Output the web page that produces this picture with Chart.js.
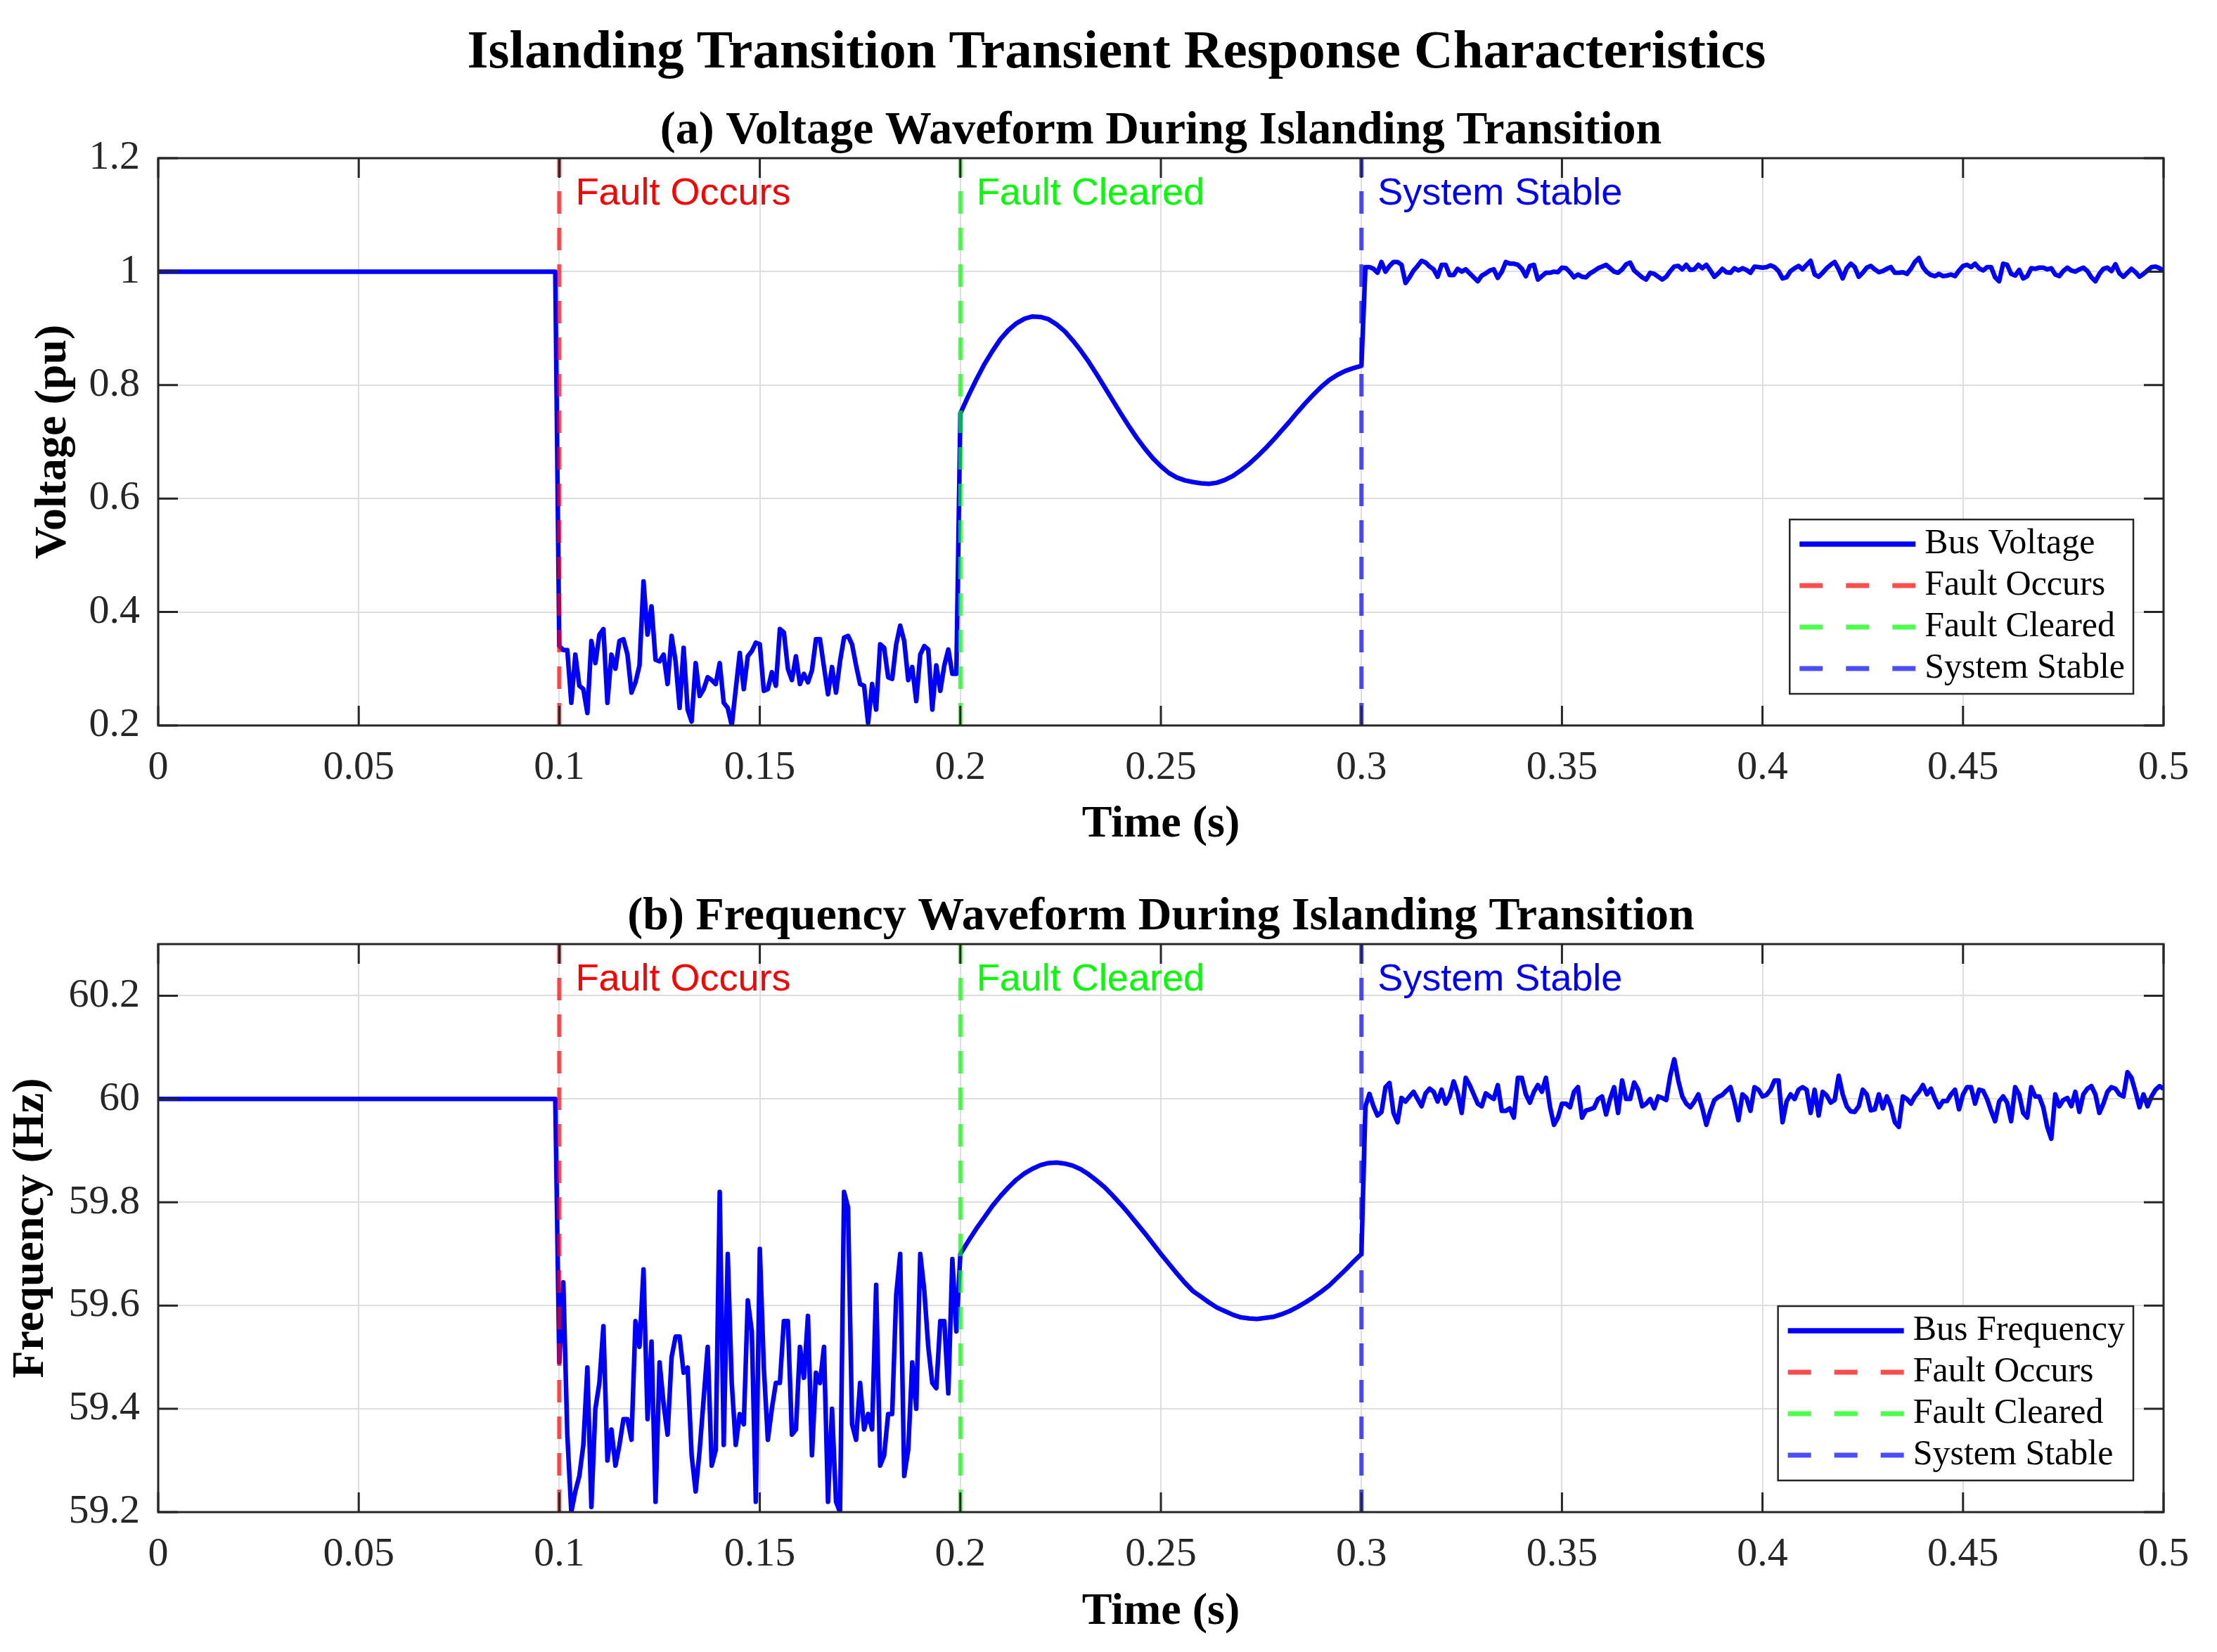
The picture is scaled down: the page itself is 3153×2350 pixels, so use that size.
<!DOCTYPE html>
<html>
<head>
<meta charset="utf-8">
<script src="https://cdn.jsdelivr.net/npm/chart.js@4.4.1/dist/chart.umd.min.js"></script>
<style>
  html, body { margin: 0; padding: 0; background: #fff; overflow: hidden; }
  #wrap { position: relative; width: 3153px; height: 2350px; }
  canvas { position: absolute; left: 0; }
  #suptitle {
    position: absolute; left: 1588px; top: 24px; transform: translateX(-50%);
    font: bold 77px/92px "Liberation Serif", "Times New Roman", serif;
    color: #000; white-space: nowrap;
  }
</style>
</head>
<body>
<div id="wrap">
  <div id="suptitle">Islanding Transition Transient Response Characteristics</div>
  <canvas id="voltChart" width="3153" height="1220" style="top:0"></canvas>
  <canvas id="freqChart" width="3153" height="1130" style="top:1220px"></canvas>
</div>
<script>
// time axis
const xTicks = [0, 0.05, 0.1, 0.15, 0.2, 0.25, 0.3, 0.35, 0.4, 0.45, 0.5];
const voltTicks = [0.2, 0.4, 0.6, 0.8, 1, 1.2];
const freqTicks = [59.2, 59.4, 59.6, 59.8, 60, 60.2];

// events (s)
const eventTimes = [0.1, 0.2, 0.3];
const eventLabels = ['Fault Occurs', 'Fault Cleared', 'System Stable'];
const eventLineColors = ['rgba(255,0,0,0.7)', 'rgba(0,255,0,0.7)', 'rgba(0,0,255,0.7)'];
const eventTextColors = ['#ff0000', '#00ff00', '#0000ff'];

// sampling segments: [start, step]
const preSeg = [0, 0.099];
const faultSeg = [0.1, 0.001];
const clearSeg = [0.2, 0.002];
const stableSeg = [0.301, 0.001];

// bus voltage (pu)
const voltPre = [1.0, 1.0];
const voltFault = [
  0.340, 0.333, 0.333, 0.240, 0.325, 0.270, 0.264, 0.222, 0.349, 0.310,
  0.360, 0.370, 0.240, 0.325, 0.300, 0.349, 0.352, 0.325, 0.258, 0.276,
  0.306, 0.454, 0.360, 0.410, 0.316, 0.313, 0.325, 0.273, 0.358, 0.313,
  0.231, 0.337, 0.228, 0.207, 0.310, 0.252, 0.264, 0.285, 0.280, 0.273,
  0.310, 0.240, 0.231, 0.200, 0.264, 0.328, 0.264, 0.322, 0.331, 0.346,
  0.343, 0.261, 0.264, 0.294, 0.270, 0.370, 0.364, 0.300, 0.280, 0.322,
  0.273, 0.291, 0.276, 0.297, 0.352, 0.352, 0.303, 0.255, 0.303, 0.258,
  0.313, 0.355, 0.358, 0.343, 0.306, 0.273, 0.270, 0.204, 0.273, 0.228,
  0.343, 0.337, 0.285, 0.282, 0.343, 0.376, 0.349, 0.280, 0.303, 0.243,
  0.325, 0.340, 0.334, 0.228, 0.306, 0.261, 0.306, 0.334, 0.291, 0.291
];
const voltClear = [
  0.750, 0.781, 0.810, 0.837, 0.860, 0.881, 0.897, 0.909, 0.917, 0.921,
  0.920, 0.916, 0.907, 0.895, 0.879, 0.861, 0.841, 0.819, 0.796, 0.773,
  0.750, 0.728, 0.707, 0.688, 0.671, 0.657, 0.645, 0.637, 0.632, 0.629,
  0.627, 0.626, 0.628, 0.633, 0.640, 0.650, 0.661, 0.674, 0.688, 0.703,
  0.719, 0.735, 0.752, 0.768, 0.783, 0.797, 0.809, 0.818, 0.825, 0.830,
  0.834
];
const voltStable = [
  1.008, 1.008, 1.005, 0.998, 1.017, 1.000, 1.010, 1.017, 1.017, 1.012,
  0.980, 0.990, 1.002, 1.010, 1.019, 1.016, 1.009, 1.004, 0.991, 1.012,
  1.012, 0.994, 0.994, 1.005, 1.000, 1.004, 0.997, 0.990, 0.983, 0.993,
  0.997, 1.002, 1.004, 0.989, 1.000, 1.017, 1.014, 1.014, 1.012, 1.005,
  0.992, 1.010, 1.012, 0.986, 0.992, 0.998, 0.998, 1.000, 0.999, 1.007,
  1.006, 0.999, 0.990, 0.995, 0.991, 0.990, 0.997, 1.001, 1.006, 1.009,
  1.012, 1.006, 1.000, 0.998, 1.004, 1.013, 1.016, 1.002, 0.996, 0.990,
  0.986, 0.998, 0.996, 0.991, 0.986, 0.991, 1.001, 1.009, 1.010, 1.004,
  1.012, 1.003, 1.004, 1.012, 1.006, 1.012, 1.002, 0.991, 0.997, 1.005,
  0.999, 0.998, 1.006, 1.002, 1.006, 1.003, 0.998, 1.009, 1.008, 1.007,
  1.008, 1.011, 1.008, 1.001, 0.988, 0.990, 1.001, 1.006, 1.010, 1.004,
  1.012, 1.019, 0.995, 0.991, 0.998, 1.006, 1.012, 1.017, 1.004, 0.988,
  1.006, 1.014, 1.008, 0.991, 0.998, 1.007, 1.010, 1.004, 0.999, 1.001,
  1.005, 1.008, 0.998, 0.998, 0.999, 0.996, 1.005, 1.017, 1.024, 1.008,
  0.999, 0.994, 0.992, 0.996, 0.992, 0.993, 0.995, 0.992, 1.002, 1.010,
  1.012, 1.008, 1.014, 1.006, 1.002, 1.008, 1.008, 0.990, 0.983, 1.014,
  1.012, 0.996, 0.993, 1.003, 0.988, 0.992, 1.006, 1.005, 1.007, 1.007,
  1.004, 1.006, 0.995, 0.992, 1.001, 1.007, 1.002, 1.000, 1.004, 1.007,
  1.001, 0.990, 0.983, 0.996, 1.005, 1.007, 1.001, 1.013, 0.997, 0.991,
  0.998, 1.005, 0.999, 0.991, 0.996, 1.002, 1.008, 1.009, 1.006, 1.002
];

// bus frequency (Hz)
const freqPre = [60.0, 60.0];
const freqFault = [
  59.49, 59.645, 59.35, 59.20, 59.24, 59.27, 59.33, 59.48, 59.21, 59.40,
  59.45, 59.56, 59.30, 59.36, 59.29, 59.33, 59.38, 59.38, 59.34, 59.57,
  59.52, 59.67, 59.38, 59.53, 59.22, 59.49, 59.41, 59.35, 59.50, 59.54,
  59.54, 59.47, 59.48, 59.31, 59.24, 59.32, 59.42, 59.52, 59.29, 59.32,
  59.82, 59.33, 59.70, 59.45, 59.33, 59.39, 59.37, 59.61, 59.55, 59.22,
  59.71, 59.48, 59.34, 59.40, 59.45, 59.45, 59.57, 59.57, 59.35, 59.36,
  59.52, 59.46, 59.58, 59.31, 59.47, 59.45, 59.52, 59.22, 59.40, 59.22,
  59.20, 59.82, 59.79, 59.37, 59.34, 59.45, 59.36, 59.39, 59.36, 59.64,
  59.29, 59.31, 59.39, 59.39, 59.62, 59.70, 59.27, 59.32, 59.49, 59.40,
  59.70, 59.63, 59.52, 59.45, 59.44, 59.57, 59.57, 59.43, 59.69, 59.55
];
const freqClear = [
  59.700, 59.725, 59.749, 59.771, 59.793, 59.812, 59.829, 59.844, 59.856, 59.865,
  59.872, 59.876, 59.877, 59.875, 59.871, 59.864, 59.854, 59.842, 59.829, 59.813,
  59.796, 59.778, 59.759, 59.740, 59.720, 59.700, 59.681, 59.662, 59.644, 59.628,
  59.617, 59.606, 59.596, 59.589, 59.582, 59.577, 59.575, 59.574, 59.576, 59.578,
  59.583, 59.589, 59.597, 59.606, 59.616, 59.627, 59.639, 59.654, 59.669, 59.685,
  59.700
];
const freqStable = [
  59.986, 60.010, 59.986, 59.968, 59.975, 60.023, 60.031, 59.973, 59.955, 60.002,
  59.995, 60.005, 60.014, 60.000, 59.986, 60.011, 60.020, 60.014, 59.995, 60.018,
  59.991, 60.005, 60.034, 60.011, 59.973, 60.041, 60.027, 60.009, 59.991, 59.986,
  60.011, 60.005, 60.000, 60.027, 59.977, 59.977, 59.982, 59.964, 60.041, 60.041,
  60.009, 59.993, 60.014, 60.027, 60.014, 60.041, 59.986, 59.950, 59.964, 59.991,
  59.991, 59.984, 60.014, 60.023, 59.964, 59.978, 59.980, 59.983, 60.000, 60.005,
  59.970, 60.000, 60.023, 59.973, 60.036, 60.000, 60.000, 60.032, 60.018, 59.986,
  59.991, 60.000, 59.982, 60.005, 60.002, 59.998, 60.045, 60.077, 60.036, 60.005,
  59.991, 59.984, 59.995, 60.009, 59.982, 59.950, 59.977, 59.998, 60.004, 60.008,
  60.016, 60.023, 59.995, 59.959, 60.009, 60.002, 59.977, 60.023, 60.018, 60.005,
  60.008, 60.018, 60.036, 60.036, 59.955, 59.995, 60.009, 60.000, 60.018, 60.023,
  60.018, 59.973, 60.018, 59.968, 60.014, 60.007, 59.993, 59.998, 60.045, 60.009,
  59.986, 59.976, 59.975, 59.986, 60.018, 60.009, 59.978, 59.980, 60.009, 59.982,
  60.005, 59.986, 59.955, 59.946, 60.005, 60.000, 59.991, 60.005, 60.014, 60.027,
  60.009, 60.020, 60.000, 59.984, 59.996, 59.996, 60.009, 60.018, 59.980, 60.009,
  60.023, 60.023, 59.991, 60.018, 60.016, 60.000, 59.977, 59.957, 59.995, 60.005,
  59.993, 59.957, 60.023, 60.009, 59.973, 59.964, 60.023, 60.005, 60.005, 59.984,
  59.946, 59.923, 60.009, 59.986, 59.998, 60.002, 59.986, 60.014, 59.975, 60.009,
  60.020, 60.025, 60.009, 59.973, 59.991, 60.014, 60.023, 60.020, 60.009, 60.005,
  60.052, 60.041, 60.014, 59.984, 60.009, 59.986, 60.005, 60.018, 60.025, 60.020
];

function series(seg, values) {
  return values.map((v, i) => ({ x: +(seg[0] + i * seg[1]).toFixed(4), y: v }));
}

const SERIF = '"Liberation Serif", "Times New Roman", serif';
const INK = '#262626';

// MATLAB-like box, inward ticks, event labels and legend
const matlabFrame = {
  id: 'matlabFrame',
  afterDraw(chart, args, opts) {
    const { ctx, chartArea: a, scales: { x, y } } = chart;
    ctx.save();

    ctx.font = '54px "Liberation Sans", Arial, sans-serif';
    ctx.textBaseline = 'middle';
    ctx.textAlign = 'left';
    eventTimes.forEach((t, i) => {
      ctx.fillStyle = eventTextColors[i];
      ctx.fillText(eventLabels[i], x.getPixelForValue(t) + 23, a.top + opts.labelDy);
    });

    ctx.strokeStyle = INK;
    ctx.lineWidth = 3;
    ctx.strokeRect(a.left, a.top, a.width, a.height);
    ctx.beginPath();
    x.ticks.forEach(t => {
      const px = x.getPixelForValue(t.value);
      ctx.moveTo(px, a.bottom); ctx.lineTo(px, a.bottom - 28);
      ctx.moveTo(px, a.top); ctx.lineTo(px, a.top + 28);
    });
    y.ticks.forEach(t => {
      const py = y.getPixelForValue(t.value);
      ctx.moveTo(a.left, py); ctx.lineTo(a.left + 28, py);
      ctx.moveTo(a.right, py); ctx.lineTo(a.right - 28, py);
    });
    ctx.stroke();

    // legend
    const sets = chart.data.datasets;
    ctx.font = '50px ' + SERIF;
    const tw = Math.max(...sets.map(d => ctx.measureText(d.label).width));
    const padL = 14, sample = 165, gap = 13, padR = 12, row = 59;
    const w = padL + sample + gap + tw + padR;
    const h = 35 + row * (sets.length - 1) + 36;
    const bx = a.right - 43 - w, by = a.bottom - 45 - h;
    ctx.fillStyle = '#fff';
    ctx.fillRect(bx, by, w, h);
    ctx.lineWidth = 2.5;
    ctx.strokeStyle = INK;
    ctx.strokeRect(bx, by, w, h);
    sets.forEach((d, i) => {
      const cy = by + 35 + row * i;
      ctx.beginPath();
      ctx.setLineDash(d.borderDash ? [33, 33] : []);
      ctx.strokeStyle = d.borderColor;
      ctx.lineWidth = d.borderWidth + 1;
      ctx.moveTo(bx + padL, cy);
      ctx.lineTo(bx + padL + sample, cy);
      ctx.stroke();
      ctx.setLineDash([]);
      ctx.fillStyle = '#000';
      ctx.textBaseline = 'middle';
      ctx.fillText(d.label, bx + padL + sample + gap, cy);
    });
    ctx.restore();
  }
};

function makeChart(id, p) {
  const datasets = [{
    label: p.seriesLabel,
    data: p.points,
    borderColor: '#0000ff',
    borderWidth: 6.5,
    borderJoinStyle: 'round',
    pointRadius: 0,
    order: 1
  }];
  eventTimes.forEach((t, i) => {
    datasets.push({
      label: eventLabels[i],
      data: [{ x: t, y: p.yMin }, { x: t, y: p.yMax }],
      borderColor: eventLineColors[i],
      borderWidth: 6,
      borderDash: [32, 20],
      pointRadius: 0,
      order: 0
    });
  });

  const fmt = v => String(Number(v.toFixed(3)));

  return new Chart(document.getElementById(id), {
    type: 'line',
    data: { datasets },
    plugins: [matlabFrame],
    options: {
      responsive: false,
      animation: false,
      devicePixelRatio: 1,
      events: [],
      layout: { padding: { left: 0, right: 76, top: 0, bottom: 0 } },
      scales: {
        x: {
          type: 'linear',
          min: 0,
          max: 0.5,
          afterBuildTicks: s => { s.ticks = xTicks.map(v => ({ value: v })); },
          afterFit: s => { s.height = p.xAxisHeight; },
          grid: { color: '#dedede', lineWidth: 2, drawTicks: false },
          border: { display: false },
          ticks: { padding: 26, color: INK, font: { family: SERIF, size: 58 }, callback: fmt, maxRotation: 0, autoSkip: false },
          title: { display: true, text: 'Time (s)', color: '#000', font: { family: SERIF, size: 64, weight: 'bold' }, padding: { top: 0, bottom: p.xTitlePad } }
        },
        y: {
          min: p.yMin,
          max: p.yMax,
          afterBuildTicks: s => { s.ticks = p.yTicks.map(v => ({ value: v })); },
          afterFit: s => { s.width = 225; },
          grid: { color: '#dedede', lineWidth: 2, drawTicks: false },
          border: { display: false },
          ticks: { padding: 26, color: INK, font: { family: SERIF, size: 58 }, callback: fmt, autoSkip: false },
          title: { display: true, text: p.yTitle, color: '#000', font: { family: SERIF, size: 64, weight: 'bold' }, padding: { top: p.yTitlePad, bottom: 0 } }
        }
      },
      plugins: {
        legend: { display: false },
        tooltip: { enabled: false },
        title: p.title,
        matlabFrame: { labelDy: 51 }
      }
    }
  });
}

makeChart('voltChart', {
  seriesLabel: 'Bus Voltage',
  points: [...series(preSeg, voltPre), ...series(faultSeg, voltFault), ...series(clearSeg, voltClear), ...series(stableSeg, voltStable)],
  yMin: 0.2, yMax: 1.2, yTicks: voltTicks,
  yTitle: 'Voltage (pu)', yTitlePad: 38,
  xAxisHeight: 188, xTitlePad: 8,
  title: {
    display: true, text: '(a) Voltage Waveform During Islanding Transition',
    color: '#000', font: { family: SERIF, size: 66, weight: 'bold', lineHeight: 1 },
    padding: { top: 154, bottom: 5 }, fullSize: false
  }
});

makeChart('freqChart', {
  seriesLabel: 'Bus Frequency',
  points: [...series(preSeg, freqPre), ...series(faultSeg, freqFault), ...series(clearSeg, freqClear), ...series(stableSeg, freqStable)],
  yMin: 59.2, yMax: 60.3, yTicks: freqTicks,
  yTitle: 'Frequency (Hz)', yTitlePad: 6,
  xAxisHeight: 199, xTitlePad: 18,
  title: {
    display: true, text: '(b) Frequency Waveform During Islanding Transition',
    color: '#000', font: { family: SERIF, size: 66, weight: 'bold', lineHeight: 1 },
    padding: { top: 52, bottom: 5 }, fullSize: false
  }
});
</script>
</body>
</html>
